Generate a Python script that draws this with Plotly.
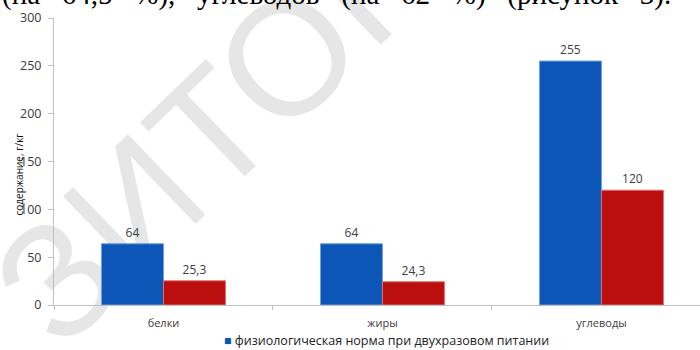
import plotly.graph_objects as go

categories = ["белки", "жиры", "углеводы"]
norm_values = [64, 64, 255]
actual_values = [25.3, 24.3, 120]
legend_name = "физиологическая норма при двухразовом питании"
actual_name = "фактическое потребление"
y_ticks = [0, 50, 100, 150, 200, 250, 300]
y_title = "содержание, г/кг"
top_words = ["(на", "64,5", "%),", "углеводов", "(на", "62", "%)", "(рисунок", "3)."]
watermark = "ЗИТОР"

BLUE = "#0b56b6"
RED = "#bb0e0e"


def fmt(v):
    return "{:g}".format(v).replace(".", ",")


fig = go.Figure()
fig.add_trace(go.Bar(
    x=categories, y=norm_values, name=legend_name, showlegend=False,
    marker=dict(color=BLUE, line=dict(color="#6fa0e0", width=1)),
    text=[fmt(v) for v in norm_values], textposition="outside",
    textfont=dict(size=12, color="#404040", family="Open Sans"),
    cliponaxis=False,
))
fig.add_trace(go.Bar(
    x=categories, y=actual_values, name=actual_name, showlegend=False,
    marker=dict(color=RED, line=dict(color="#e07070", width=1)),
    text=[fmt(v) for v in actual_values], textposition="outside",
    textfont=dict(size=12, color="#404040", family="Open Sans"),
    cliponaxis=False,
))

fig.update_layout(
    width=700, height=350,
    margin=dict(l=54, r=0, t=18, b=45),
    paper_bgcolor="white", plot_bgcolor="rgba(0,0,0,0)",
    barmode="group", bargap=0.434, bargroupgap=0,
    font=dict(family="Open Sans", color="#404040"),
    xaxis=dict(range=[-0.5, 2.45], showline=True, linecolor="#c0c0c0", linewidth=1,
               ticks="outside", tickson="boundaries", ticklen=4, tickcolor="#c0c0c0",
               ticklabelstandoff=8,
               tickfont=dict(size=11, color="#404040"), showgrid=False),
    yaxis=dict(range=[0, 300], tickvals=y_ticks, showline=True, linecolor="#c0c0c0",
               linewidth=1, ticks="outside", ticklen=5, tickcolor="#c0c0c0",
               ticklabelstandoff=4,
               tickfont=dict(size=12.5, color="#3a3a3a"), showgrid=False, zeroline=False),
)

# watermark, drawn beneath the bars
fig.add_shape(type="rect", xref="paper", yref="paper", x0=0.224, x1=0.244, y0=0.652, y1=0.672,
              layer="below", line=dict(width=0), fillcolor="rgba(0,0,0,0)",
              label=dict(text=watermark, textangle=-44, textposition="middle center",
                         font=dict(size=162, color="#e6e6e6", family="Liberation Sans")))

fig.add_annotation(text=y_title, xref="paper", yref="paper", x=-0.054, y=0.455,
                   textangle=-90, showarrow=False, xanchor="center", yanchor="middle",
                   font=dict(size=10, color="#111111", family="Open Sans"))
# justified line of body text cut off at the top of the picture
fig.add_annotation(text="\u2002 ".join(top_words), xref="paper", yref="paper", x=-0.084, y=1.017,
                   xanchor="left", yanchor="bottom", showarrow=False,
                   font=dict(size=29, color="#000000", family="Liberation Serif"))
fig.add_annotation(text="<span style='color:%s'>■</span> %s" % (BLUE, legend_name),
                   xref="paper", yref="paper", x=0.514, y=-0.122,
                   xanchor="center", yanchor="middle", showarrow=False,
                   font=dict(size=12.5, color="#222222", family="Open Sans"))

fig.write_html("out.html")
